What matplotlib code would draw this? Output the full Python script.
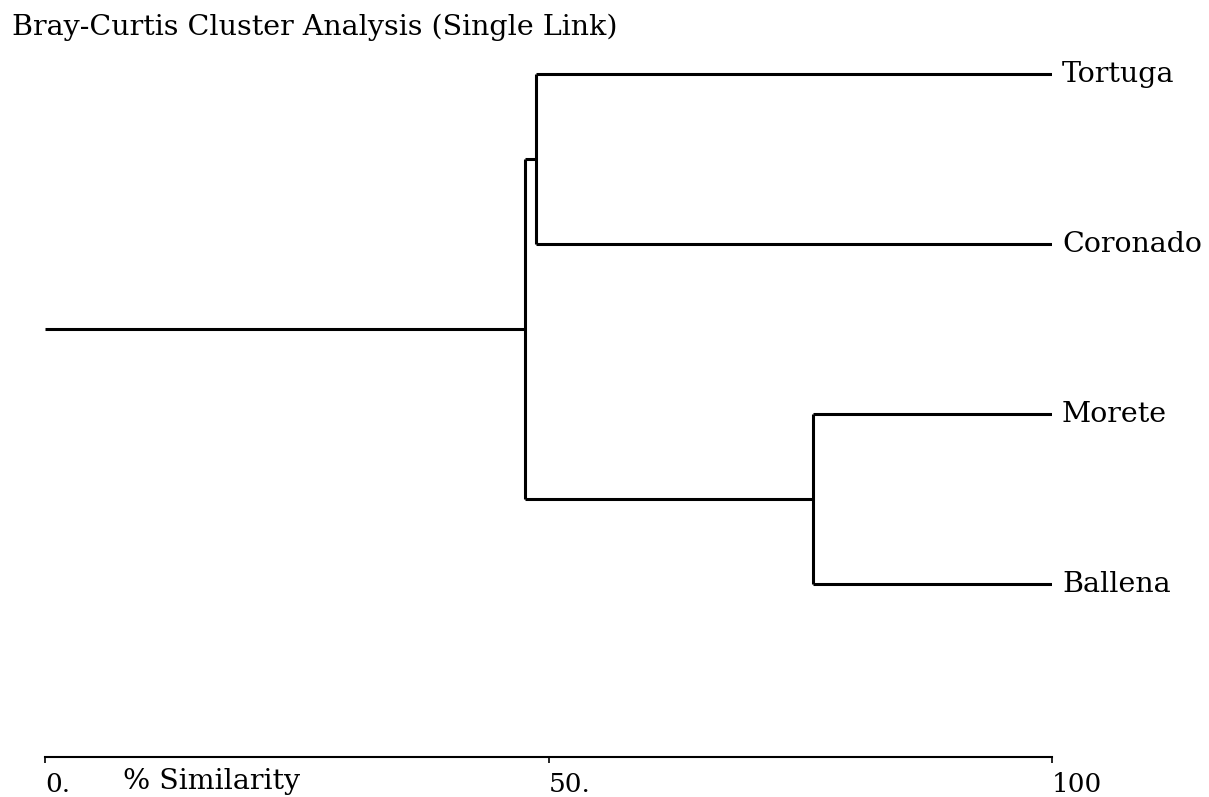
import matplotlib.pyplot as plt

# sites (top to bottom) and the % similarity at which clusters join
sites = ["Tortuga", "Coronado", "Morete", "Ballena"]
join_tort_coro = 48.8
join_more_ball = 76.3
join_all = 47.7
ticks = [0, 50, 100]
tick_labels = ["0.", "50.", "100"]

plt.rcParams['font.family'] = ['DejaVu Serif']
fs = 20.5
fs_tick = 19

fig = plt.figure(figsize=(12.09, 7.97), dpi=100)
ax = fig.add_axes([45 / 1209, 1 - 757 / 797, 1007 / 1209, 697 / 797])

lw = 2.2
ypos = {s: len(sites) - i for i, s in enumerate(sites)}  # 4,3,2,1

# leaf lines
ax.hlines(ypos["Tortuga"], join_tort_coro, 100, color="black", lw=lw)
ax.hlines(ypos["Coronado"], join_tort_coro, 100, color="black", lw=lw)
ax.hlines(ypos["Morete"], join_more_ball, 100, color="black", lw=lw)
ax.hlines(ypos["Ballena"], join_more_ball, 100, color="black", lw=lw)

# first pair
ax.vlines(join_tort_coro, ypos["Coronado"], ypos["Tortuga"], color="black", lw=lw)
y_tc = (ypos["Tortuga"] + ypos["Coronado"]) / 2
ax.hlines(y_tc, join_all, join_tort_coro, color="black", lw=lw)

# second pair
ax.vlines(join_more_ball, ypos["Ballena"], ypos["Morete"], color="black", lw=lw)
y_mb = (ypos["Morete"] + ypos["Ballena"]) / 2
ax.hlines(y_mb, join_all, join_more_ball, color="black", lw=lw)

# root
ax.vlines(join_all, y_mb, y_tc, color="black", lw=lw)
ax.hlines((y_tc + y_mb) / 2, 0, join_all, color="black", lw=lw)

for s in sites:
    ax.annotate(s, (100, ypos[s]), xytext=(10, -8), textcoords="offset pixels",
                fontsize=fs, va="baseline", ha="left")

ax.set_xlim(0, 100)
ax.set_ylim(-0.02, 4.08)
for side in ["top", "right", "left"]:
    ax.spines[side].set_visible(False)
ax.spines["bottom"].set_linewidth(1.5)
ax.set_yticks([])
ax.set_xticks(ticks)
ax.set_xticklabels(tick_labels, fontsize=fs_tick, ha="left")
ax.tick_params(axis="x", direction="out", length=4, width=1.2, pad=7)
ax.annotate("% Similarity", (7.75, 0), xytext=(0, -35), textcoords="offset pixels",
            fontsize=fs, ha="left", va="baseline", annotation_clip=False)

fig.text(12 / 1209, 1 - 35 / 797, "Bray-Curtis Cluster Analysis (Single Link)",
         fontsize=fs, ha="left", va="baseline")

plt.savefig("out.png", dpi=100)
